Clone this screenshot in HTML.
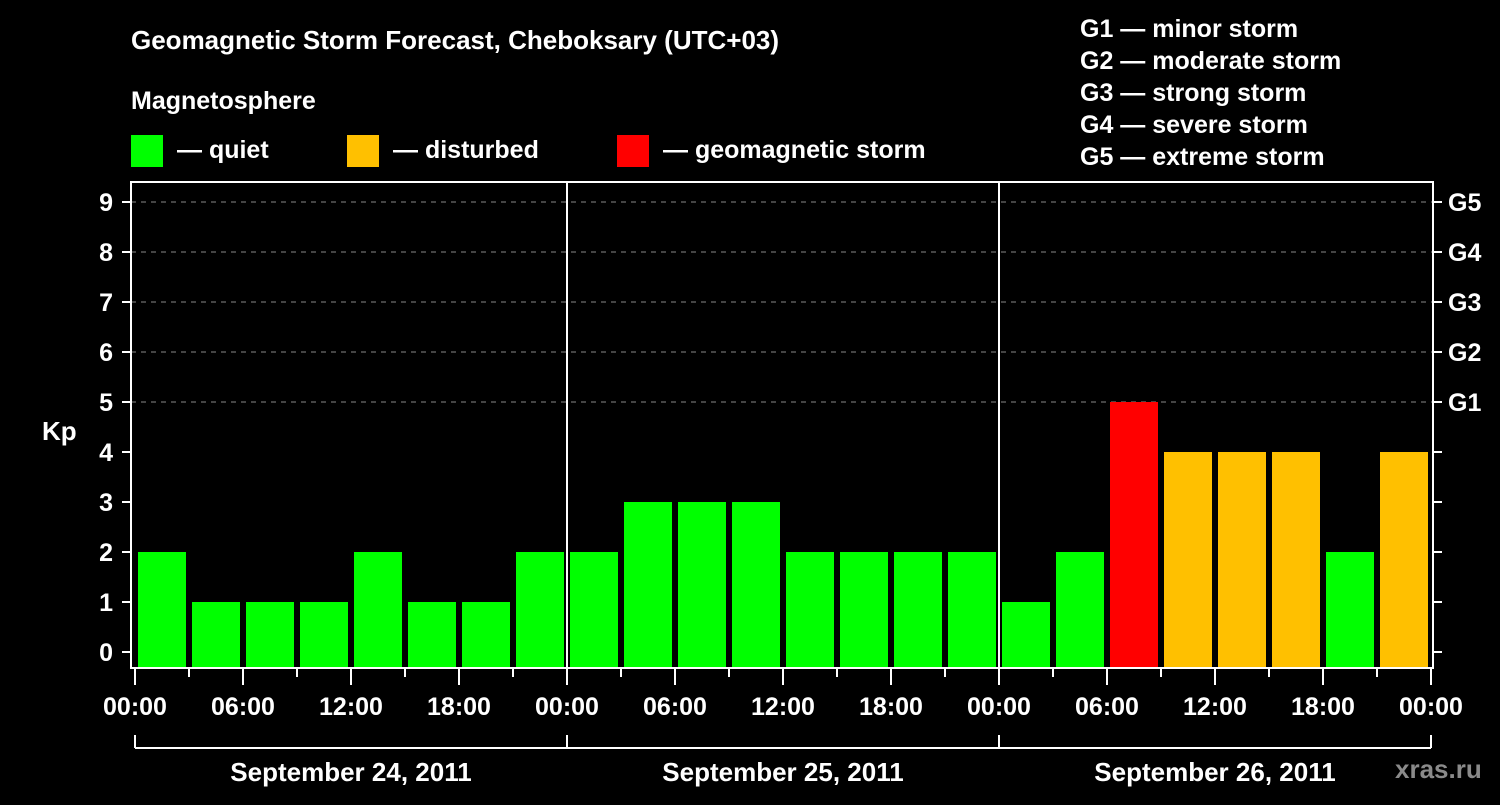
<!DOCTYPE html>
<html><head><meta charset="utf-8"><style>
body{margin:0;background:#000;width:1500px;height:800px;overflow:hidden}
svg text{font-family:"Liberation Sans",Arial,sans-serif;font-weight:bold;fill:#fff}
</style></head><body>
<svg id="c" width="1500" height="800" xmlns="http://www.w3.org/2000/svg">
<rect width="1500" height="800" fill="#000"/>
<text x="131" y="49" font-size="26">Geomagnetic Storm Forecast, Cheboksary (UTC+03)</text>
<text x="131" y="109" font-size="25">Magnetosphere</text>
<g><rect x="131" y="135" width="32" height="32" fill="#00ff00"/><text x="177" y="158" font-size="25">— quiet</text></g>
<g><rect x="347" y="135" width="32" height="32" fill="#ffc000"/><text x="393" y="158" font-size="25">— disturbed</text></g>
<g><rect x="617" y="135" width="32" height="32" fill="#ff0000"/><text x="663" y="158" font-size="25">— geomagnetic storm</text></g>
<g font-size="25">
<text x="1080" y="37">G1 — minor storm</text>
<text x="1080" y="69">G2 — moderate storm</text>
<text x="1080" y="101">G3 — strong storm</text>
<text x="1080" y="133">G4 — severe storm</text>
<text x="1080" y="165">G5 — extreme storm</text>
</g>
<text x="42" y="440" font-size="26">Kp</text>
<text x="1395" y="778" font-size="26" fill="#888" style="fill:#8a8a8a">xras.ru</text>
<g id="plot"></g>
</svg>
<script>
const kpValues=[2,1,1,1,2,1,1,2, 2,3,3,3,2,2,2,2, 1,2,5,4,4,4,2,4];
const dayLabels=["September 24, 2011","September 25, 2011","September 26, 2011"];
const timeLabels=["00:00","06:00","12:00","18:00"];
const gLabels=["G1","G2","G3","G4","G5"];
const yTicks=[0,1,2,3,4,5,6,7,8,9];
const NS="http://www.w3.org/2000/svg";
const g=document.getElementById('plot');
const X0=135,HPX=18,Y0=652,UPX=50,TOP=182,BOT=668,RIGHT=1433;
const xs=h=>X0+h*HPX, ys=v=>Y0-v*UPX;
function mk(t,a,p){const e=document.createElementNS(NS,t);for(const k in a)e.setAttribute(k,a[k]);(p||g).appendChild(e);return e;}
function color(v){return v>=5?'#ff0000':v>=4?'#ffc000':'#00ff00';}
// grid
yTicks.forEach(v=>{if(v>=5){const l=mk('line',{x1:131,x2:RIGHT,y1:ys(v),y2:ys(v),stroke:'#888','stroke-width':1,'stroke-dasharray':'5,5'});

}});
// bars
kpValues.forEach((v,i)=>{const r=mk('rect',{x:xs(i*3)+3,y:ys(v),width:48,height:BOT-ys(v),fill:color(v)});

});
// frame
const f=mk('rect',{x:131,y:TOP,width:RIGHT-131,height:BOT-TOP,fill:'none',stroke:'#fff','stroke-width':2});


for(let d=1;d<dayLabels.length;d++){const l=mk('line',{x1:xs(d*24),x2:xs(d*24),y1:TOP,y2:BOT,stroke:'#fff','stroke-width':2});

}
// y ticks
yTicks.forEach(v=>{mk('line',{x1:122,x2:131,y1:ys(v),y2:ys(v),stroke:'#fff','stroke-width':2});
mk('line',{x1:RIGHT,x2:RIGHT+9,y1:ys(v),y2:ys(v),stroke:'#fff','stroke-width':2});
const t=mk('text',{x:113,y:ys(v)+9,'font-size':25,'text-anchor':'end'});t.textContent=v;


if(v>=5){const t2=mk('text',{x:1448,y:ys(v)+9,'font-size':25});t2.textContent=gLabels[v-5];

}});
// x ticks
const totalH=dayLabels.length*24;
for(let h=0;h<=totalH;h+=3){const major=h%6===0;
mk('line',{x1:xs(h),x2:xs(h),y1:BOT,y2:BOT+(major?17:9),stroke:'#fff','stroke-width':2});
if(major){const t=mk('text',{x:xs(h),y:715,'font-size':25,'text-anchor':'middle'});t.textContent=timeLabels[(h%24)/6];

}}
// day brackets
mk('line',{x1:xs(0),x2:xs(totalH),y1:748,y2:748,stroke:'#fff','stroke-width':2});
for(let d=0;d<=dayLabels.length;d++)mk('line',{x1:xs(d*24),x2:xs(d*24),y1:735,y2:748,stroke:'#fff','stroke-width':2});
dayLabels.forEach((s,d)=>{const t=mk('text',{x:xs(d*24+12),y:781,'font-size':26,'text-anchor':'middle'});t.textContent=s;

});
</script>
</body></html>
